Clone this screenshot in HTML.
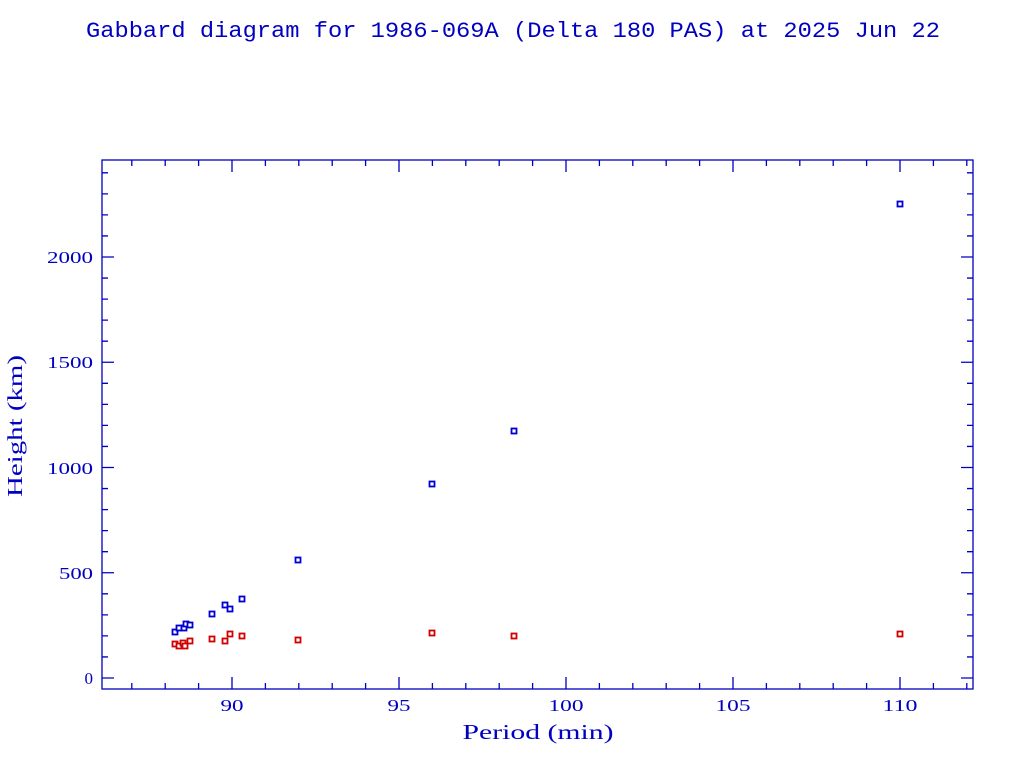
<!DOCTYPE html>
<html><head><style>body{margin:0;background:#fff}svg{display:block}</style></head><body>
<svg width="1024" height="768" xmlns="http://www.w3.org/2000/svg" font-family="Liberation Serif, serif" fill="#0000c0">
<rect width="1024" height="768" fill="#fff"/>
<text x="86" y="37" font-family="Liberation Mono, monospace" font-size="22" textLength="854" lengthAdjust="spacingAndGlyphs">Gabbard diagram for 1986-069A (Delta 180 PAS) at 2025 Jun 22</text>
<g stroke="#0000c0" stroke-width="1.3" fill="none">
<rect x="102" y="160" width="871" height="529"/>
<g id="ticks"></g>
</g>
<g font-size="17" text-anchor="middle" lengthAdjust="spacingAndGlyphs">
<text x="232" y="711" textLength="23" lengthAdjust="spacingAndGlyphs">90</text><text x="399" y="711" textLength="23" lengthAdjust="spacingAndGlyphs">95</text><text x="566" y="711" textLength="35" lengthAdjust="spacingAndGlyphs">100</text><text x="733" y="711" textLength="35" lengthAdjust="spacingAndGlyphs">105</text><text x="900" y="711" textLength="35" lengthAdjust="spacingAndGlyphs">110</text>
<text x="538" y="739" font-size="21" textLength="151" lengthAdjust="spacingAndGlyphs">Period (min)</text>
</g>
<g font-size="17" text-anchor="end">
<text x="93" y="684">0</text><text x="93" y="579" textLength="34" lengthAdjust="spacingAndGlyphs">500</text><text x="93" y="474" textLength="46" lengthAdjust="spacingAndGlyphs">1000</text><text x="93" y="368" textLength="46" lengthAdjust="spacingAndGlyphs">1500</text><text x="93" y="263" textLength="46" lengthAdjust="spacingAndGlyphs">2000</text>
</g>
<text transform="translate(22,426) rotate(-90)" font-size="21" text-anchor="middle" textLength="142" lengthAdjust="spacingAndGlyphs">Height (km)</text>
<g id="pts"></g>
<script>
var s="http://www.w3.org/2000/svg",g=document.getElementById('ticks'),d="";
for(var v=87;v<=112;v++){var x=232+(v-90)*33.4,L=(v%5==0)?12:6;d+="M"+x+" 689v-"+L+"M"+x+" 160v"+L;}
for(var h=0;h<=2400;h+=100){var y=678-h*0.2105,L=(h%500==0)?12:6;d+="M102 "+y+"h"+L+"M973 "+y+"h-"+L;}
var p=document.createElementNS(s,'path');p.setAttribute('d',d);g.appendChild(p);
var B=[[175,632],[179,628],[184,628],[186,624],[190,625],[212,614],[225,605],[230,609],[242,599],[298,560],[432,484],[514,431],[900,204]];
var R=[[175,644],[179,646],[183,643],[185,646],[190,641],[212,639],[225,641],[230,634],[242,636],[298,640],[432,633],[514,636],[900,634]];
var P=document.getElementById('pts');
function add(a,c){a.forEach(function(q){var r=document.createElementNS(s,'rect');r.setAttribute('x',q[0]-2.5);r.setAttribute('y',q[1]-2.5);r.setAttribute('width',5);r.setAttribute('height',5);r.setAttribute('fill','#fff');r.setAttribute('stroke',c);r.setAttribute('stroke-width',1.8);P.appendChild(r);});}
add(B,'#0000d0');add(R,'#d00000');
</script>
</svg>
</body></html>
